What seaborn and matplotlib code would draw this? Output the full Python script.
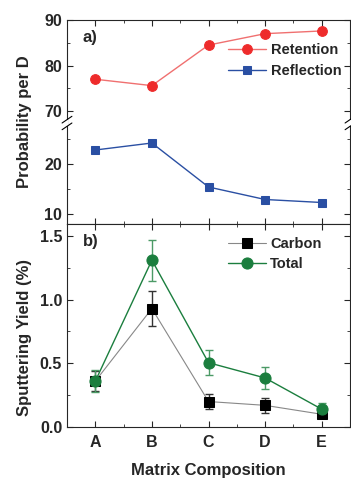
import matplotlib
matplotlib.use("Agg")
import matplotlib.pyplot as plt
import numpy as np
import pandas as pd
import seaborn as sns

sns.set_style("ticks")
plt.rcParams['font.family'] = ['Liberation Sans', 'DejaVu Sans']
plt.rcParams['font.weight'] = 'bold'
plt.rcParams['axes.labelweight'] = 'bold'

compositions = ['A', 'B', 'C', 'D', 'E']
retention = [77.0, 75.6, 84.5, 87.0, 87.6]
reflection = [22.8, 24.2, 15.4, 12.9, 12.3]
carbon = [0.36, 0.93, 0.20, 0.17, 0.10]
carbon_err = [0.08, 0.14, 0.06, 0.06, 0.03]
total = [0.36, 1.31, 0.505, 0.385, 0.14]
total_err = [0.087, 0.16, 0.10, 0.088, 0.05]

red = "#ee2b2b"
red_line = "#f07070"
blue = "#2a4fa3"
green = "#1b7e3e"
black = "#000000"

x = np.arange(len(compositions))
df_top = pd.DataFrame({'x': np.tile(x, 2),
                       'value': retention + reflection,
                       'series': ['Retention'] * 5 + ['Reflection'] * 5})

W, H = 351, 479
fig = plt.figure(figsize=(W / 100, H / 100), dpi=100)
left, right = 67 / W, 350 / W


def box(top_px, bot_px):
    return [left, 1 - bot_px / H, right - left, (bot_px - top_px) / H]


ax_hi = fig.add_axes(box(20, 123))
ax_lo = fig.add_axes(box(123, 224))
ax_b = fig.add_axes(box(224, 427))

fs_tick = 11.5
fs_leg = 10.5
fs_lab = 12


def style(ax):
    ax.tick_params(which='both', direction='in', top=True, right=True, labelsize=fs_tick)
    ax.tick_params(which='major', length=4)
    ax.tick_params(which='minor', length=2.5)
    ax.set_xlim(-0.09, 4.15)
    ax.set_xticks(x)
    ax.set_xticks(np.arange(-0.5, 4.6, 0.5), minor=True)
    for s in ax.spines.values():
        s.set_linewidth(0.8)
    ax.set_xlabel("")
    ax.set_ylabel("")


for ax in (ax_hi, ax_lo):
    sns.lineplot(data=df_top[df_top.series == 'Retention'], x='x', y='value', ax=ax,
                 color=red_line, lw=1, marker='o', markersize=7, markerfacecolor=red,
                 markeredgecolor=red, label='Retention')
    sns.lineplot(data=df_top[df_top.series == 'Reflection'], x='x', y='value', ax=ax,
                 color=blue, lw=1, marker='s', markersize=6, markerfacecolor=blue,
                 markeredgecolor=blue, label='Reflection')
    style(ax)
    ax.set_xticklabels([])

ax_hi.set_ylim(67.4, 90)
ax_hi.set_yticks([70, 80, 90])
ax_hi.set_yticks([75, 85], minor=True)
ax_lo.set_ylim(8, 28.2)
ax_lo.set_yticks([10, 20])
ax_lo.set_yticks([15, 25], minor=True)
ax_hi.spines['bottom'].set_visible(False)
ax_lo.spines['top'].set_visible(False)
ax_hi.tick_params(which='both', bottom=False)
ax_lo.tick_params(which='both', top=False)
ax_lo.get_legend().remove()
ax_hi.legend(loc='upper right', frameon=False, fontsize=fs_leg, handlelength=2.6,
             handletextpad=0.3, borderaxespad=0.2, labelspacing=0.45,
             bbox_to_anchor=(1.0, 0.86))
ax_hi.text(0.055, 0.9, "a)", transform=ax_hi.transAxes, fontsize=fs_lab, va='top')

# break marks on the y spines
for xs in (0, 1):
    xc = left + (right - left) * xs
    yc = 1 - 123 / H
    fig.patches.append(plt.Rectangle((xc - 0.004, yc - 0.007), 0.008, 0.014,
                                     transform=fig.transFigure,
                                     facecolor='white', edgecolor='none', zorder=5))
    for dy in (-0.007, 0.007):
        fig.lines.append(plt.Line2D([xc - 0.014, xc + 0.014],
                                    [yc + dy - 0.007, yc + dy + 0.007],
                                    transform=fig.transFigure, color='k', lw=0.8, zorder=6))

# bottom panel
ax_b.errorbar(x, carbon, yerr=carbon_err, fmt='none', ecolor='#333333', elinewidth=1, capsize=3)
ax_b.errorbar(x, total, yerr=total_err, fmt='none', ecolor='#4c9a66', elinewidth=1, capsize=3)
sns.lineplot(x=x, y=carbon, ax=ax_b, color='#888888', lw=0.8, marker='s', markersize=7,
             markerfacecolor=black, markeredgecolor=black, label='Carbon')
sns.lineplot(x=x, y=total, ax=ax_b, color=green, lw=1, marker='o', markersize=8,
             markerfacecolor=green, markeredgecolor=green, label='Total')
style(ax_b)
ax_b.set_ylim(0, 1.594)
ax_b.set_yticks([0, 0.5, 1.0, 1.5])
ax_b.set_yticklabels(['0.0', '0.5', '1.0', '1.5'])
ax_b.set_yticks([0.25, 0.75, 1.25], minor=True)
ax_b.set_xticklabels(compositions)
ax_b.tick_params(axis='x', pad=6)
ax_b.legend(loc='upper right', frameon=False, fontsize=fs_leg, handlelength=2.6,
            handletextpad=0.3, borderaxespad=0.2, labelspacing=0.45,
            bbox_to_anchor=(0.93, 0.98))
ax_b.text(0.055, 0.95, "b)", transform=ax_b.transAxes, fontsize=fs_lab, va='top')
ax_b.set_xlabel("Matrix Composition", fontsize=fs_lab, fontweight='bold', labelpad=9)

fig.text(25 / W, 1 - 122 / H, "Probability per D", rotation=90, fontsize=fs_lab,
         ha='center', va='center')
fig.text(25 / W, 1 - 338 / H, "Sputtering Yield (%)", rotation=90, fontsize=fs_lab,
         ha='center', va='center')

fig.savefig("out.png", dpi=100)
